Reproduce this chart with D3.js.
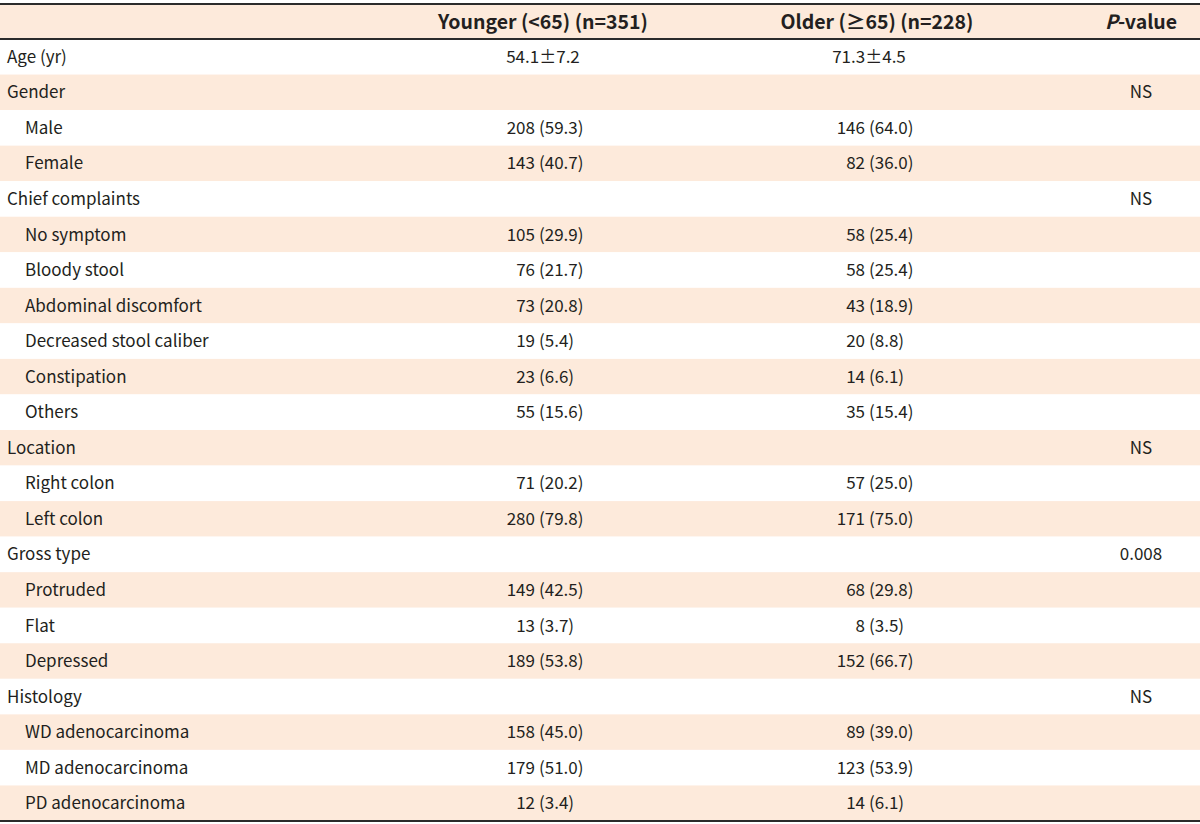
<!DOCTYPE html>
<html><head><meta charset="utf-8">
<script src="https://cdn.jsdelivr.net/npm/d3@7"></script>
<style>body{margin:0;background:#fff}svg{display:block}</style>
</head><body>
<svg id="c" width="1200" height="824"></svg>
<script>
const headers = ["", "Younger (<65) (n=351)", "Older (≥65) (n=228)", "P-value"];
const rowLabels = ["Age (yr)","Gender","Male","Female","Chief complaints","No symptom","Bloody stool","Abdominal discomfort","Decreased stool caliber","Constipation","Others","Location","Right colon","Left colon","Gross type","Protruded","Flat","Depressed","Histology","WD adenocarcinoma","MD adenocarcinoma","PD adenocarcinoma"];
const rowIndent = [0,0,1,1,0,1,1,1,1,1,1,0,1,1,0,1,1,1,0,1,1,1];
const youngerN = [null,null,208,143,null,105,76,73,19,23,55,null,71,280,null,149,13,189,null,158,179,12];
const youngerPct = [null,null,"59.3","40.7",null,"29.9","21.7","20.8","5.4","6.6","15.6",null,"20.2","79.8",null,"42.5","3.7","53.8",null,"45.0","51.0","3.4"];
const olderN = [null,null,146,82,null,58,58,43,20,14,35,null,57,171,null,68,8,152,null,89,123,14];
const olderPct = [null,null,"64.0","36.0",null,"25.4","25.4","18.9","8.8","6.1","15.4",null,"25.0","75.0",null,"29.8","3.5","66.7",null,"39.0","53.9","6.1"];
const meanSd = ["54.1±7.2","71.3±4.5"];
const pValues = ["","NS","","","NS","","","","","","","NS","","","0.008","","","","NS","","",""];

const svg = d3.select("#c");
const font = "'Noto Sans CJK KR', 'Noto Sans', sans-serif";
const txt = "#231f20";
const peach = "#fdeadb";
const W = 1200;
const headTop = 4, headBot = 39, bottom = 821;

const y = d3.scaleBand().domain(d3.range(rowLabels.length)).range([headBot, bottom]).padding(0);

svg.append("rect").attr("x",0).attr("y",headTop).attr("width",W).attr("height",headBot-headTop).attr("fill",peach);
svg.selectAll("rect.row").data(rowLabels).join("rect").attr("class","row")
  .attr("x",0).attr("width",W).attr("y",(d,i)=>y(i)).attr("height",y.bandwidth())
  .attr("fill",(d,i)=> i%2===1 ? peach : "#fff");

[[headTop,2.2],[headBot,2],[bottom,2]].forEach(([yy,w])=>{
  svg.append("line").attr("x1",0).attr("x2",W).attr("y1",yy).attr("y2",yy).attr("stroke","#2b2b2b").attr("stroke-width",w);
});

const fs = 17, hfs = 19.5;
const hy = (headTop+headBot)/2 + 7;
const hg = svg.append("g").attr("font-family",font).attr("font-weight","bold").attr("font-size",hfs).attr("fill",txt).attr("text-anchor","middle");
hg.append("text").attr("x",543).attr("y",hy).text(headers[1]);
hg.append("text").attr("x",877).attr("y",hy).text(headers[2]);
const pt = hg.append("text").attr("x",1141).attr("y",hy);
pt.append("tspan").attr("font-style","italic").text(headers[3].split("-")[0]);
pt.append("tspan").text("-" + headers[3].split("-")[1]);

const base = i => y(i) + y.bandwidth()/2 + 6;
const g = svg.append("g").attr("font-family",font).attr("font-size",fs).attr("fill",txt);

g.selectAll("text.lab").data(rowLabels).join("text").attr("class","lab")
  .attr("x",(d,i)=> rowIndent[i] ? 25 : 7).attr("y",(d,i)=>base(i)).text(d=>d);

const parenX = [539, 869];
[[youngerN,youngerPct],[olderN,olderPct]].forEach(([ns,ps],c)=>{
  g.selectAll("text.n"+c).data(ns).join("text").attr("class","n"+c)
    .attr("x",parenX[c]-4).attr("y",(d,i)=>base(i)).attr("text-anchor","end")
    .text(d=> d==null ? "" : d);
  g.selectAll("text.p"+c).data(ps).join("text").attr("class","p"+c)
    .attr("x",parenX[c]).attr("y",(d,i)=>base(i))
    .text(d=> d==null ? "" : "("+d+")");
});
g.append("text").attr("x",543).attr("y",base(0)).attr("text-anchor","middle").text(meanSd[0]);
g.append("text").attr("x",869).attr("y",base(0)).attr("text-anchor","middle").text(meanSd[1]);

g.selectAll("text.pv").data(pValues).join("text").attr("class","pv")
  .attr("x",1141).attr("y",(d,i)=>base(i)).attr("text-anchor","middle").text(d=>d);
</script>
</body></html>
